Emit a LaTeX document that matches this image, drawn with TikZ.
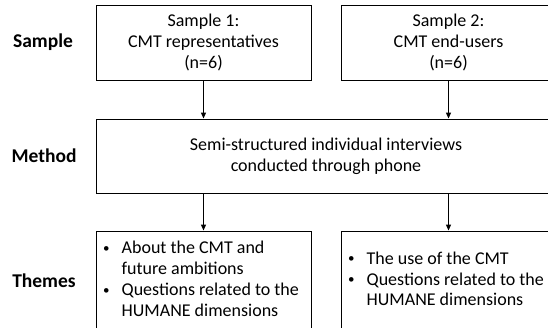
\documentclass[tikz,border=0pt]{standalone}
\usepackage{fontspec}
\setmainfont{Carlito}
\usetikzlibrary{arrows.meta}

\newcommand{\smalldot}{\raisebox{1.5pt}{\fontsize{13}{13}\selectfont\textbullet}}

\tikzset{
  box/.style={draw, line width=0.9pt, minimum width=215pt, align=center, inner sep=0pt},
  head/.style={font=\fontsize{19.5}{22}\selectfont\bfseries},
  link/.style={-{Triangle[length=6pt,width=5pt]}, line width=1.1pt},
  items/.style={anchor=west, inner sep=0pt}
}

\begin{document}
\begin{tikzpicture}[x=1pt, y=-1pt, font=\fontsize{18}{20.8}\selectfont]
\useasboundingbox (0,0) rectangle (548,328);
\clip (0,0) rectangle (548,328);
\node [head] (sample) at (43,42.5) {Sample};
\node [head] (method) at (44,156) {Method};
\node [head] (themes) at (44,281) {Themes};
\node [box, minimum height=75pt] (s1) at (203.5,42.5) {Sample 1:\\CMT representatives\\(n=6)};
\node [box, minimum height=75pt] (s2) at (448.5,42.5) {Sample 2:\\CMT end-users\\(n=6)};
\node [box, minimum width=460pt, minimum height=74pt] (m) at (326,156)
  {Semi-structured individual interviews\\conducted through phone};
\node [box, minimum height=100pt] (t1) at (203.5,281) {};
\node [box, minimum height=100pt] (t2) at (448.5,281) {};
\node [items] (t1text) at (103,281) {%
  \begin{tabular}{@{}l@{\hspace{12pt}}l@{}}
  \smalldot & About the CMT and\\
   & future ambitions\\
  \smalldot & Questions related to the\\
   & HUMANE dimensions
  \end{tabular}};
\node [items] (t2text) at (348,281) {%
  \begin{tabular}{@{}l@{\hspace{12pt}}l@{}}
  \smalldot & The use of the CMT\\
  \smalldot & Questions related to the\\
   & HUMANE dimensions
  \end{tabular}};
\foreach \col in {1,2} {
  \draw [link] (s\col.south) -- (s\col.south |- m.north);
  \draw [link] (m.south -| t\col.north) -- (t\col.north);
  %\node at (t\col) {\col};
}
\end{tikzpicture}
\end{document}
